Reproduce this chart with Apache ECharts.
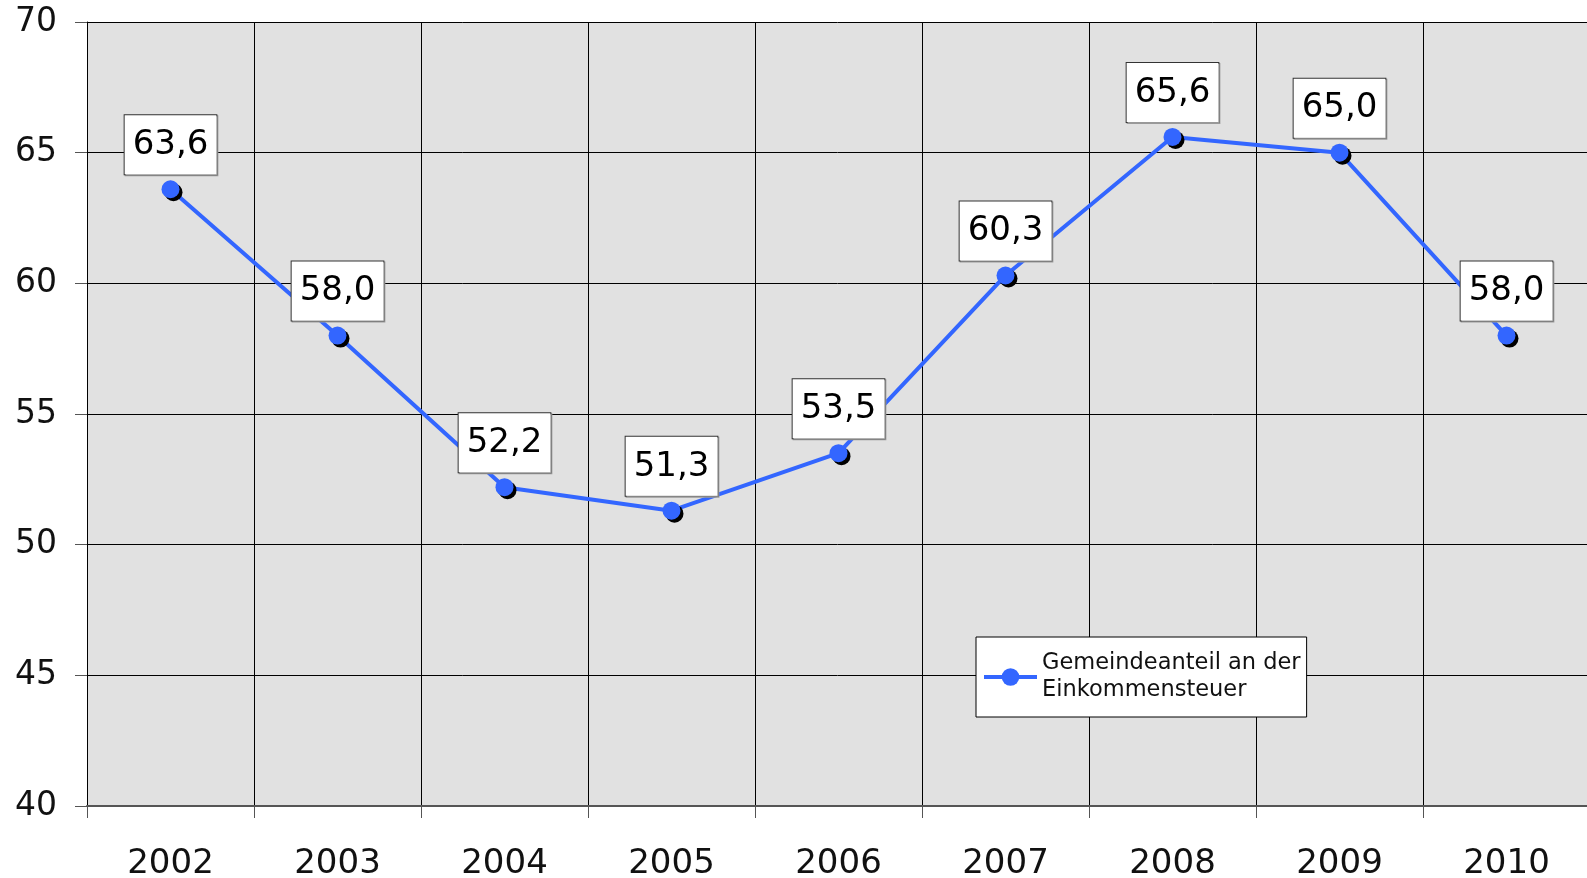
<!DOCTYPE html>
<html>
<head>
<meta charset="utf-8">
<script src="https://cdn.jsdelivr.net/npm/echarts@6/dist/echarts.min.js"></script>
<style>
  html, body { margin: 0; padding: 0; background: #fff; }
  #main { width: 1587px; height: 878px; }
</style>
</head>
<body>
<div id="main"></div>
<script>
var years = ['2002', '2003', '2004', '2005', '2006', '2007', '2008', '2009', '2010'];
var anteil = [63.6, 58.0, 52.2, 51.3, 53.5, 60.3, 65.6, 65.0, 58.0];
var seriesName = 'Gemeindeanteil an der\nEinkommensteuer';

var myChart = echarts.init(document.getElementById('main'));
var font = 'DejaVu Sans';

option = {
  backgroundColor: '#fff',
  animation: false,
  textStyle: { fontFamily: font },
  grid: {
    left: 87,
    top: 22,
    width: 1503,
    bottom: 72,
    show: true,
    backgroundColor: '#e1e1e1',
    borderWidth: 0,
    outerBoundsMode: 'none'
  },
  legend: {
    data: [seriesName],
    left: 976,
    top: 637,
    padding: [13, 6, 13, 6],
    itemWidth: 53,
    itemHeight: 22,
    backgroundColor: '#fff',
    borderColor: '#000',
    borderWidth: 1,
    borderRadius: 0,
    lineStyle: { width: 4, color: '#3366ff' },
    textStyle: {
      fontFamily: font,
      fontSize: 22.5,
      lineHeight: 27,
      color: '#111'
    }
  },
  xAxis: {
    type: 'category',
    data: years,
    boundaryGap: true,
    axisLine: { show: true, lineStyle: { color: '#555', width: 2 } },
    axisTick: { show: true, length: 12, inside: false, lineStyle: { color: '#555' } },
    splitLine: { show: true, interval: 0, lineStyle: { color: '#000', width: 1 } },
    axisLabel: {
      margin: 41,
      fontFamily: font,
      fontSize: 34,
      color: '#111'
    }
  },
  yAxis: {
    type: 'value',
    min: 40,
    max: 70,
    interval: 5,
    axisLine: { show: true, lineStyle: { color: '#000', width: 1 } },
    axisTick: { show: true, length: 12, lineStyle: { color: '#555' } },
    splitLine: { show: true, lineStyle: { color: '#000', width: 1 } },
    axisLabel: {
      margin: 30,
      fontFamily: font,
      fontSize: 33,
      color: '#111'
    }
  },
  series: [
    {
      name: seriesName,
      type: 'line',
      data: anteil,
      symbol: 'circle',
      symbolSize: 18,
      lineStyle: { color: '#3366ff', width: 4 },
      itemStyle: {
        color: '#3366ff',
        shadowColor: '#000',
        shadowOffsetX: 3,
        shadowOffsetY: 3,
        shadowBlur: 0
      },
      label: {
        show: true,
        position: 'top',
        distance: 6,
        fontFamily: font,
        fontSize: 34,
        color: '#000',
        backgroundColor: '#fff',
        borderColor: '#333',
        borderWidth: 1,
        padding: [13, 8, 12, 8],
        shadowColor: '#999',
        shadowOffsetX: 1,
        shadowOffsetY: 1,
        formatter: function (p) {
          return p.value.toFixed(1).replace('.', ',');
        }
      }
    }
  ]
};
myChart.setOption(option);
window.onresize = function () {
  myChart.resize();
};
</script>
</body>
</html>
